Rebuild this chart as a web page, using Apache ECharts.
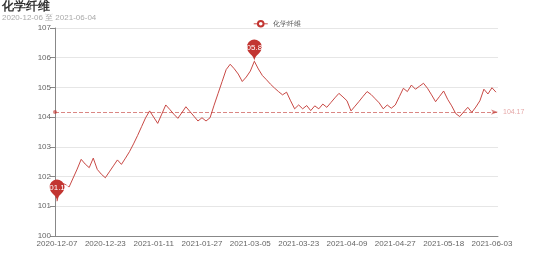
<!DOCTYPE html>
<html><head><meta charset="utf-8">
<script src="https://cdn.jsdelivr.net/npm/echarts@6/dist/echarts.min.js"></script>
<style>html,body{margin:0;padding:0;background:#fff}#c{width:554px;height:265px}</style>
</head><body><div id="c"></div>
<script>
var dates = [
'2020-12-07','2020-12-08','2020-12-09','2020-12-10','2020-12-11','2020-12-14','2020-12-15','2020-12-16','2020-12-17','2020-12-18',
'2020-12-21','2020-12-22','2020-12-23','2020-12-24','2020-12-25','2020-12-28','2020-12-29','2020-12-30','2020-12-31','2021-01-04',
'2021-01-05','2021-01-06','2021-01-07','2021-01-08','2021-01-11','2021-01-12','2021-01-13','2021-01-14','2021-01-15','2021-01-18',
'2021-01-19','2021-01-20','2021-01-21','2021-01-22','2021-01-25','2021-01-26','2021-01-27','2021-01-28','2021-01-29','2021-02-01',
'2021-02-02','2021-02-03','2021-02-04','2021-02-05','2021-02-08','2021-02-09','2021-02-10','2021-03-04','2021-03-05','2021-03-08',
'2021-03-09','2021-03-10','2021-03-11','2021-03-12','2021-03-15','2021-03-16','2021-03-17','2021-03-18','2021-03-19','2021-03-22',
'2021-03-23','2021-03-24','2021-03-25','2021-03-26','2021-03-29','2021-03-30','2021-03-31','2021-04-01','2021-04-02','2021-04-06',
'2021-04-07','2021-04-08','2021-04-09','2021-04-12','2021-04-13','2021-04-14','2021-04-15','2021-04-16','2021-04-19','2021-04-20',
'2021-04-21','2021-04-22','2021-04-23','2021-04-26','2021-04-27','2021-04-28','2021-04-29','2021-04-30','2021-05-06','2021-05-07',
'2021-05-10','2021-05-11','2021-05-12','2021-05-13','2021-05-14','2021-05-17','2021-05-18','2021-05-19','2021-05-20','2021-05-21',
'2021-05-24','2021-05-25','2021-05-26','2021-05-27','2021-05-28','2021-05-31','2021-06-01','2021-06-02','2021-06-03','2021-06-04'
];
var values = [
101.17,101.78,101.74,101.65,101.95,102.25,102.58,102.42,102.30,102.62,
102.24,102.08,101.96,102.16,102.36,102.56,102.41,102.62,102.84,103.10,
103.38,103.68,103.98,104.21,104.00,103.79,104.10,104.41,104.26,104.10,
103.96,104.15,104.35,104.19,104.03,103.87,103.98,103.87,103.98,104.40,
104.80,105.20,105.60,105.78,105.63,105.45,105.20,105.35,105.55,105.88,
105.62,105.40,105.26,105.11,104.98,104.86,104.75,104.84,104.55,104.28,
104.41,104.28,104.39,104.22,104.38,104.28,104.44,104.33,104.49,104.65,
104.80,104.68,104.55,104.21,104.37,104.53,104.70,104.86,104.76,104.62,
104.48,104.28,104.41,104.30,104.41,104.69,104.97,104.86,105.08,104.94,
105.04,105.14,104.97,104.75,104.52,104.70,104.88,104.60,104.38,104.12,
104.02,104.18,104.33,104.16,104.34,104.55,104.94,104.78,104.99,104.84
];
var averageValue = 104.17;
var seriesName = '化学纤维';
var titleText = '化学纤维';
var subText = '2020-12-06 至 2021-06-04';

var chart = echarts.init(document.getElementById('c'));
chart.setOption({
  animation: false,
  color: ['#c23531'],
  title: {
    text: titleText, subtext: subText, left: 0, top: 0, itemGap: 1, padding: [1, 2],
    textStyle: {fontSize: 12, fontWeight: 'bold', color: '#333'},
    subtextStyle: {fontSize: 8, color: '#aaa'}
  },
  legend: {
    top: 15, left: 'center', itemWidth: 14, itemHeight: 7,
    textStyle: {fontSize: 7, color: '#555'},
    itemStyle: {borderWidth: 1},
    lineStyle: {width: 1},
    data: [seriesName]
  },
  grid: {left: 55, right: 56, top: 28, bottom: 29},
  xAxis: {
    type: 'category', data: dates, boundaryGap: true,
    axisLine: {lineStyle: {color: '#888'}},
    axisTick: {interval: 11, lineStyle: {color: '#888'}},
    axisLabel: {interval: 11, fontSize: 8, color: '#666', margin: 4}
  },
  yAxis: {
    type: 'value', min: 100, max: 107, interval: 1,
    axisLine: {show: true, lineStyle: {color: '#888'}},
    axisTick: {show: true, lineStyle: {color: '#888'}},
    axisLabel: {fontSize: 8, color: '#666', margin: 4},
    splitLine: {lineStyle: {color: '#e6e6e6'}}
  },
  series: [{
    name: seriesName, type: 'line', data: values,
    showSymbol: false, symbol: 'emptyCircle',
    lineStyle: {width: 1, opacity: 0.9},
    markPoint: {
      symbol: 'pin', symbolSize: 25,
      label: {fontSize: 8, color: '#fff'},
      data: [{type: 'max', name: '最大值'}, {type: 'min', name: '最小值'}]
    },
    markLine: {
      symbol: ['circle', 'arrow'], symbolSize: [4, 7],
      lineStyle: {type: 'dashed', width: 1, opacity: 0.6},
      label: {fontSize: 7, color: '#d46a6a'},
      data: [{yAxis: averageValue, name: '平均值'}]
    }
  }]
});
</script></body></html>
